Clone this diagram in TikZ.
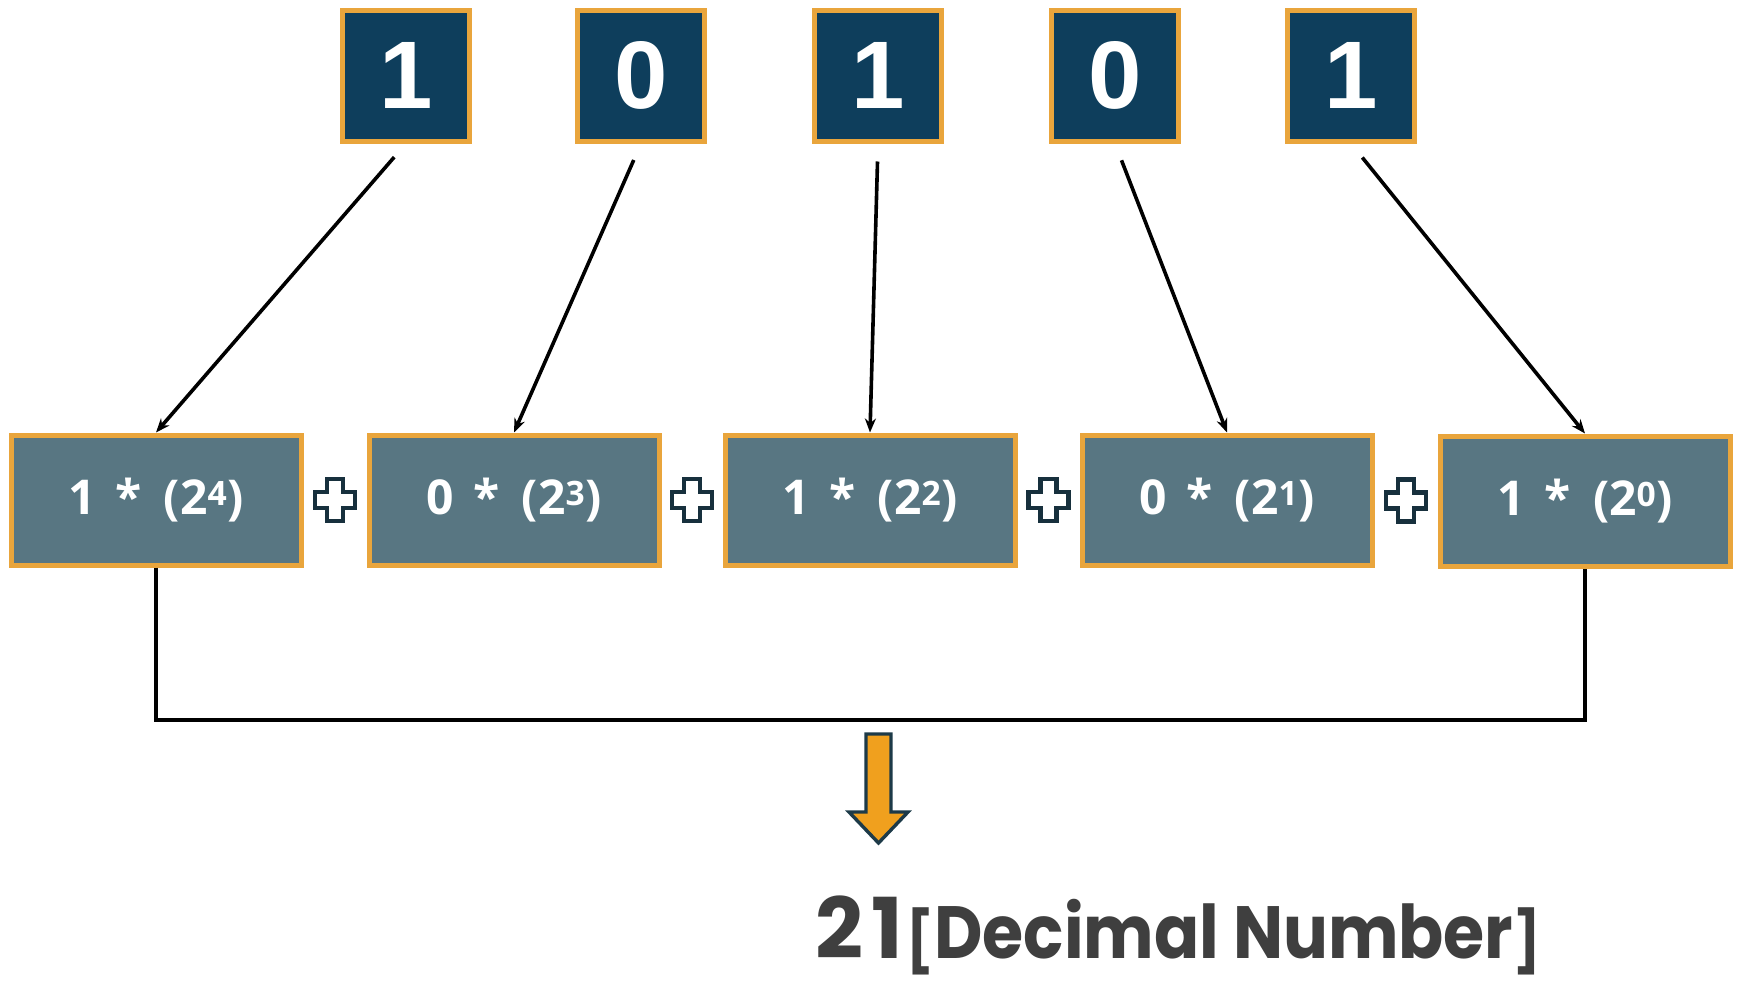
\documentclass[tikz,border=0pt]{standalone}
\usepackage{fontspec}
\setmainfont{Liberation Sans}
\newfontfamily\boxfont{Open Sans}
\newfontfamily\resfont[FakeStretch=0.9]{Poppins}
\newfontfamily\numfont{Poppins}
\usetikzlibrary{arrows.meta,calc}
\definecolor{navy}{HTML}{0E3E5C}
\definecolor{gold}{HTML}{E9A53C}
\definecolor{slate}{HTML}{587682}
\definecolor{plusline}{HTML}{17303D}
\definecolor{arrfill}{HTML}{F0A01E}
\definecolor{arrline}{HTML}{1D3A48}
\definecolor{restext}{HTML}{3F3F3F}
\tikzset{
  bitbox/.style={draw=gold, fill=navy, line width=5pt, minimum width=127pt, minimum height=131pt,
    inner sep=0pt, text=white, font=\bfseries\fontsize{96}{96}\selectfont},
  termbox/.style={draw=gold, fill=slate, line width=5pt, minimum width=290pt, minimum height=130pt,
    inner sep=0pt, text=white, font=\boxfont\bfseries\fontsize{48}{48}\selectfont},
  conn/.style={draw=black, line width=3.6pt, shorten <=18pt, -{Stealth[length=14pt,width=11pt]}},
  plussign/.style={draw=plusline, fill=white, line width=4.5pt, line join=miter},
  bracket/.style={draw=black, line width=3.6pt},
  bigarrow/.style={draw=arrline, fill=arrfill, line width=3.4pt, line join=miter}
}
\newcommand{\term}[2]{#1\hspace{20pt}*\hspace{22pt}(2\textsuperscript{#2})}
\begin{document}
\begin{tikzpicture}[x=1pt,y=-1pt]
\useasboundingbox (0,0) rectangle (1738,985);
% top bits
\node[bitbox] (t1) at (406,75.5) {1};
\node[bitbox] (t2) at (641,75.5) {0};
\node[bitbox] (t3) at (878,75.5) {1};
\node[bitbox] (t4) at (1115,75.5) {0};
\node[bitbox] (t5) at (1351,75.5) {1};
% terms
\node[termbox] (m1) at (156,500) {\term{1}{4}};
\node[termbox] (m2) at (514,500) {\term{0}{3}};
\node[termbox] (m3) at (870,500) {\term{1}{2}};
\node[termbox] (m4) at (1227,500) {\term{0}{1}};
\node[termbox] (m5) at (1585,501) {\term{1}{0}};
% connectors
\draw[conn] (t1.south) -- (m1.north);
\draw[conn] (t2.south) -- (m2.north);
\draw[conn] (t3.south) -- (m3.north);
\draw[conn] (t4.south) -- (m4.north);
\draw[conn] (t5.south) -- (m5.north);
% plus signs
\foreach \a/\b in {m1/m2,m2/m3,m3/m4,m4/m5}{
  \draw[plussign, shift={($(\a.east)!0.5!(\b.west)$)}]
    (-8,-21) -- (8,-21) -- (8,-8) -- (20,-8) -- (20,8) -- (8,8) -- (8,21)
    -- (-8,21) -- (-8,8) -- (-20,8) -- (-20,-8) -- (-8,-8) -- cycle;
}
% bracket
\coordinate (bl) at (m1.south |- 0,720);
\draw[bracket] (m1.south) -- (bl) -| (m5.south);
% orange arrow
\coordinate (oa) at (878.5,734);
\draw[bigarrow, shift={(oa)}]
  (-12.5,0) -- (12.5,0) -- (12.5,78) -- (29.5,78) -- (0,109) -- (-29.5,78) -- (-12.5,78) -- cycle;
% result
\node[anchor=base west, inner sep=0pt, text=restext] (res) at (815,958)
  {{\numfont\bfseries\fontsize{84}{84}\selectfont 2\hspace{8pt}1}\hspace{4pt}{\resfont\bfseries\fontsize{74}{74}\selectfont{\fontsize{60}{60}\selectfont\raisebox{-4pt}{[}}Decimal Number{\fontsize{60}{60}\selectfont\raisebox{-4pt}{]}}}};
\end{tikzpicture}
\end{document}
